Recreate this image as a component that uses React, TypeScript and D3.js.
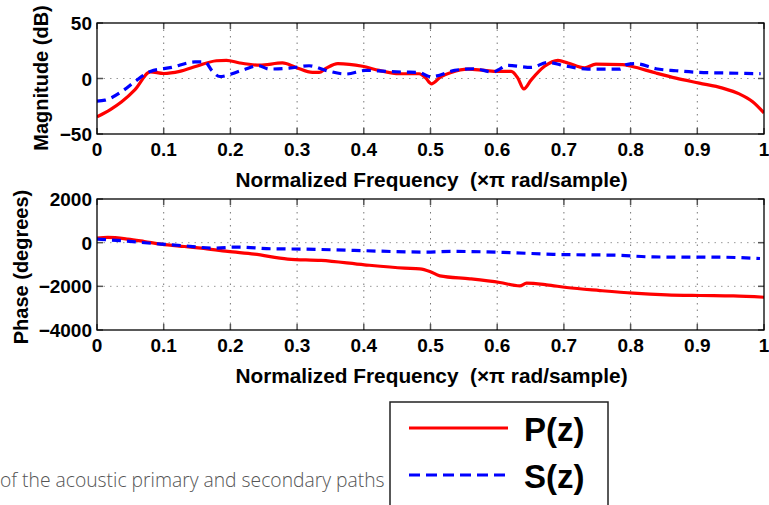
import React from "react";
import * as d3 from "d3";

// ---- data ----
const xTicks = [0, 0.1, 0.2, 0.3, 0.4, 0.5, 0.6, 0.7, 0.8, 0.9, 1];
const magTicks = [-50, 0, 50];
const phaseTicks = [-4000, -2000, 0, 2000];

const magP: [number, number][] = [
  [0, -34.5], [0.02, -28], [0.037, -21], [0.057, -10], [0.08, 6], [0.1, 4.5], [0.124, 6.4],
  [0.149, 11], [0.179, 16], [0.194, 16.4], [0.214, 14], [0.244, 12], [0.278, 14], [0.298, 10],
  [0.323, 5.5], [0.333, 5.5], [0.343, 9], [0.361, 13.4], [0.398, 11], [0.423, 7.3], [0.453, 4.3],
  [0.483, 4.3], [0.493, 0.3], [0.501, -4.8], [0.516, 1.8], [0.531, 5.5], [0.556, 8.5], [0.581, 7.3],
  [0.601, 6.4], [0.621, 6.4], [0.631, 0.3], [0.64, -9.4], [0.651, -1.2], [0.671, 11], [0.691, 16.4],
  [0.706, 14], [0.731, 9.5], [0.748, 13], [0.788, 12.5], [0.801, 11], [0.838, 4.9], [0.868, 0.3],
  [0.903, -4.2], [0.938, -8.7], [0.963, -13.9], [0.983, -20.9], [1.0, -31],
];
const magS: [number, number][] = [
  [0, -20.3], [0.012, -19.5], [0.037, -11.8], [0.057, -2.7], [0.08, 6.4], [0.112, 10], [0.147, 14.9],
  [0.162, 14.9], [0.172, 7.3], [0.184, 1.8], [0.217, 7.3], [0.242, 11.5], [0.258, 8.5], [0.288, 9.3],
  [0.318, 11.5], [0.343, 7.3], [0.373, 4], [0.403, 7.3], [0.433, 6.4], [0.458, 5.8], [0.483, 5.5],
  [0.498, 1.8], [0.503, 1.8], [0.536, 7.3], [0.566, 8.8], [0.593, 5.8], [0.616, 11.8], [0.651, 10],
  [0.676, 14.5], [0.701, 11.5], [0.736, 8.5], [0.764, 8.5], [0.784, 8.5], [0.794, 12.5], [0.808, 13.4],
  [0.838, 8.8], [0.868, 7], [0.903, 5.5], [0.948, 4.9], [0.995, 4.3],
];
const phaseP: [number, number][] = [
  [0, 210], [0.016, 240], [0.046, 165], [0.071, 55], [0.096, -65], [0.131, -175], [0.156, -250],
  [0.196, -400], [0.236, -525], [0.286, -750], [0.336, -815], [0.401, -1015], [0.461, -1165],
  [0.484, -1200], [0.499, -1320], [0.514, -1520], [0.559, -1655], [0.604, -1825], [0.634, -1980],
  [0.644, -1855], [0.674, -1930], [0.704, -2055], [0.754, -2195], [0.804, -2315], [0.854, -2390],
  [0.904, -2420], [0.954, -2440], [1.0, -2500],
];
const phaseS: [number, number][] = [
  [0, 165], [0.036, 90], [0.066, 10], [0.096, -65], [0.126, -130], [0.176, -250], [0.211, -200],
  [0.261, -280], [0.311, -295], [0.386, -355], [0.491, -430], [0.534, -400], [0.609, -445],
  [0.684, -535], [0.784, -580], [0.834, -655], [0.934, -665], [0.994, -725],
];
const legendLabels = ["P(z)", "S(z)"];
const xLabel = "Normalized Frequency  (\u00d7\u03c0 rad/sample)";
const caption = "of the acoustic primary and secondary paths";

const W = 769, H = 505;
const L = 97, R = 764;
const FONT = "'Liberation Sans', Arial, Helvetica, sans-serif";
const RED = "#ff0000", BLUE = "#0000ff";

function Panel({ top, bottom, domain, ticks, pData, sData, yLabel, yLabelX, yLabelY, fmt }: any) {
  const x = d3.scaleLinear().domain([0, 1]).range([L, R]);
  const y = d3.scaleLinear().domain(domain).range([bottom, top]);
  const line = d3.line<[number, number]>().x(d => x(d[0])).y(d => y(d[1])).curve(d3.curveMonotoneX);
  const clipId = "clip" + top;
  return (
    <g>
      <defs>
        <clipPath id={clipId}><rect x={L} y={top} width={R - L} height={bottom - top} /></clipPath>
      </defs>
      {xTicks.slice(1, -1).map(t => (
        <line key={"gx" + t} x1={x(t)} x2={x(t)} y1={top} y2={bottom} stroke="#777" strokeWidth={1} strokeDasharray="1.5,5" />
      ))}
      {ticks.slice(1, -1).map((t: number) => (
        <line key={"gy" + t} x1={L} x2={R} y1={y(t)} y2={y(t)} stroke="#999" strokeWidth={1} strokeDasharray="1.5,5" />
      ))}
      {xTicks.map(t => (
        <g key={"tx" + t}>
          <line x1={x(t)} x2={x(t)} y1={bottom} y2={bottom - 6} stroke="#555" strokeWidth={1.5} />
          <line x1={x(t)} x2={x(t)} y1={top} y2={top + 6} stroke="#555" strokeWidth={1.5} />
        </g>
      ))}
      {ticks.map((t: number) => (
        <g key={"ty" + t}>
          <line x1={L} x2={L + 6} y1={y(t)} y2={y(t)} stroke="#555" strokeWidth={1.5} />
          <line x1={R} x2={R - 6} y1={y(t)} y2={y(t)} stroke="#555" strokeWidth={1.5} />
        </g>
      ))}
      <g clipPath={`url(#${clipId})`}>
        <path d={line(pData) || ""} fill="none" stroke={RED} strokeWidth={3.2} />
        <path d={line(sData) || ""} fill="none" stroke={BLUE} strokeWidth={3.2} strokeDasharray="9,6" />
      </g>
      <rect x={L} y={top} width={R - L} height={bottom - top} fill="none" stroke="#000" strokeWidth={1.3} />
      {xTicks.map(t => (
        <text key={"lx" + t} x={x(t)} y={bottom + 22} textAnchor="middle" fontFamily={FONT} fontWeight="bold" fontSize={19}>{String(t)}</text>
      ))}
      {ticks.map((t: number) => (
        <text key={"ly" + t} x={L - 5} y={y(t) + 7} textAnchor="end" fontFamily={FONT} fontWeight="bold" fontSize={19}>{fmt(t)}</text>
      ))}
      <text x={(L + R) / 2 + 1} y={bottom + 53} textAnchor="middle" fontFamily={FONT} fontWeight="bold" fontSize={20.8} style={{ whiteSpace: "pre" }}>{xLabel}</text>
      <text transform={`translate(${yLabelX},${yLabelY}) rotate(-90)`} textAnchor="middle" fontFamily={FONT} fontWeight="bold" fontSize={20}>{yLabel}</text>
    </g>
  );
}

const fmtNum = (t: number) => (t < 0 ? "\u2212" + Math.abs(t) : String(t));

export default function App() {
  return (
    <svg width={W} height={H} style={{ position: "absolute", left: 0, top: 0, background: "#fff" }}>
      <Panel top={23} bottom={134} domain={[-50, 50]} ticks={magTicks} pData={magP} sData={magS}
        yLabel="Magnitude (dB)" yLabelX={48} yLabelY={78} fmt={fmtNum} />
      <Panel top={199} bottom={330} domain={[-4000, 2000]} ticks={phaseTicks} pData={phaseP} sData={phaseS}
        yLabel="Phase (degrees)" yLabelX={28} yLabelY={267} fmt={fmtNum} />
      <text x={0} y={487} fontFamily="'Open Sans', sans-serif" fontSize={19.3} fill="#555" fontWeight={300}>{caption}</text>
      <rect x={390} y={402} width={218} height={120} fill="#fff" stroke="#222" strokeWidth={1.5} />
      <line x1={409} x2={508} y1={428} y2={428} stroke={RED} strokeWidth={3} />
      <line x1={409} x2={508} y1={475} y2={475} stroke={BLUE} strokeWidth={3} strokeDasharray="11,6" />
      <text x={524} y={441} fontFamily={FONT} fontWeight="bold" fontSize={33}>{legendLabels[0]}</text>
      <text x={524} y={488} fontFamily={FONT} fontWeight="bold" fontSize={33}>{legendLabels[1]}</text>
    </svg>
  );
}
